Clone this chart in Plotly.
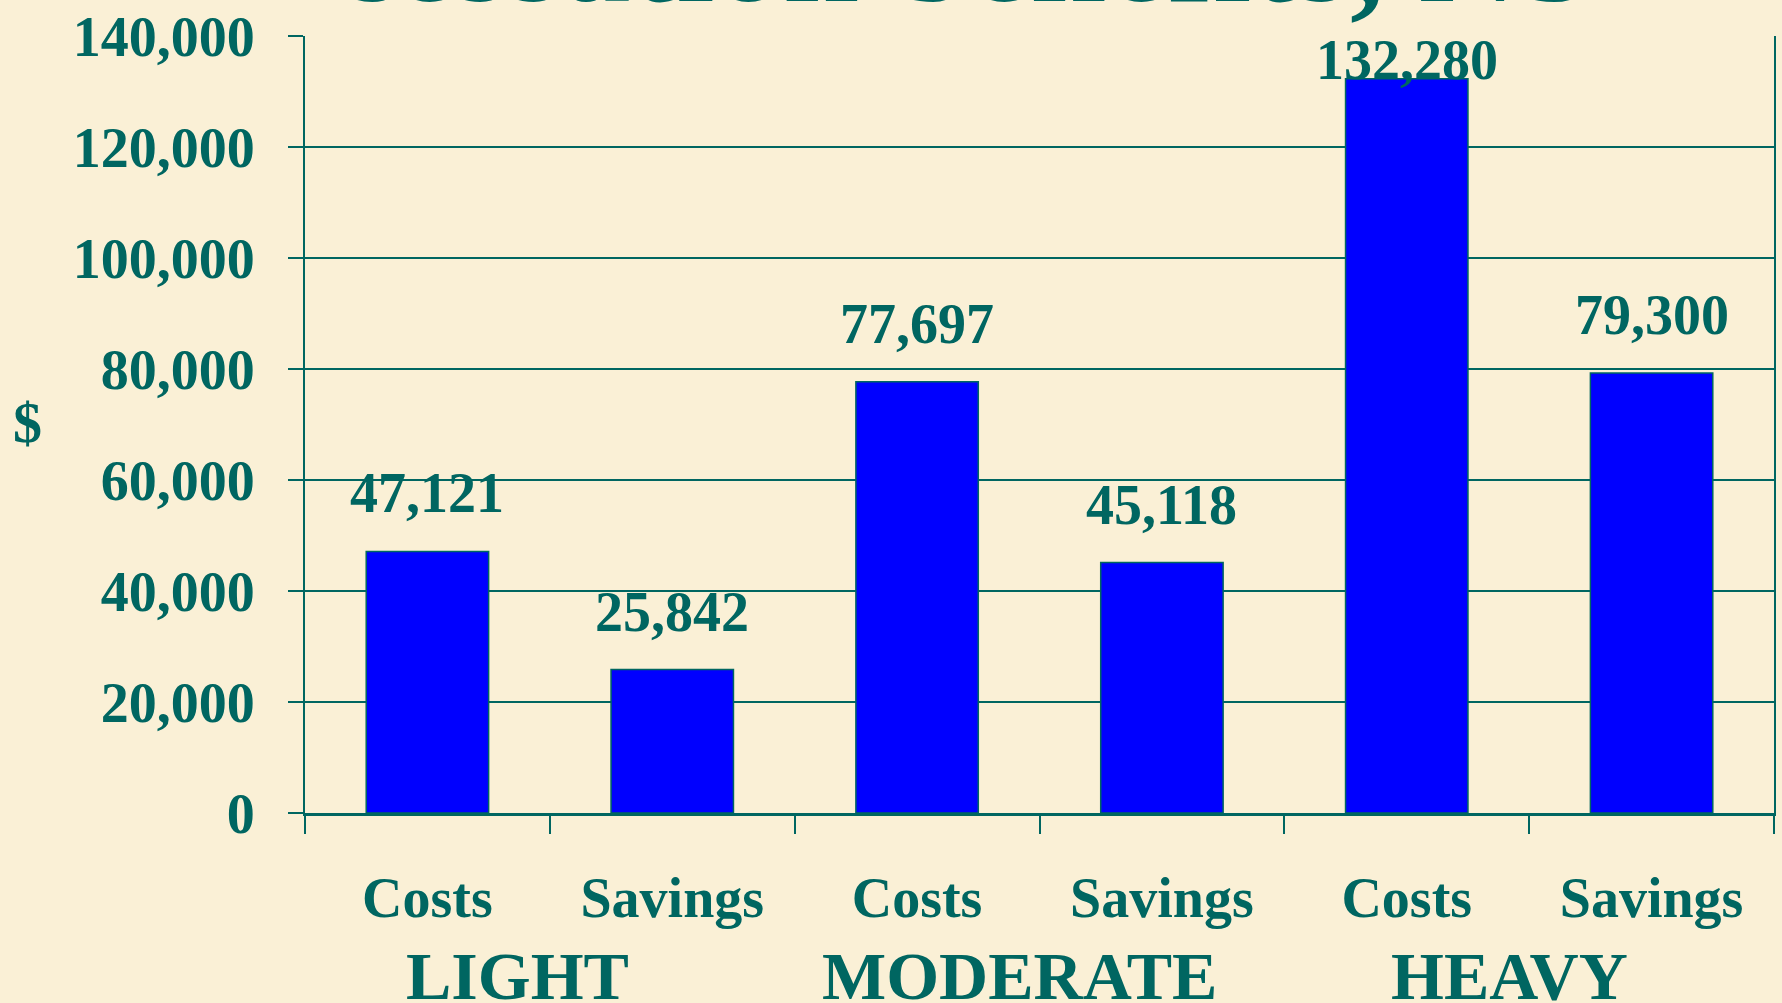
import plotly.graph_objects as go

groups = ["LIGHT", "MODERATE", "HEAVY"]
kinds = ["Costs", "Savings"]
values = [47121, 25842, 77697, 45118, 132280, 79300]
value_labels = ["47,121", "25,842", "77,697", "45,118", "132,280", "79,300"]
y_ticks = [0, 20000, 40000, 60000, 80000, 100000, 120000, 140000]
y_ticktext = ["0", "20,000", "40,000", "60,000", "80,000", "100,000", "120,000", "140,000"]

TEAL = "#006661"
BG = "#FAF0D6"
FONT = "Liberation Serif"

keys = [f"{g} {k}" for g in groups for k in kinds]
tick_text = [k for g in groups for k in kinds]

fig = go.Figure()
fig.add_trace(go.Bar(
    x=keys, y=values, width=0.5,
    marker=dict(color="#0000FF", line=dict(color=TEAL, width=1.5)),
    hoverinfo="skip",
))

YMAX = 140000
for key, v, lab in zip(keys, values, value_labels):
    near_top = v > YMAX * 0.85
    fig.add_annotation(
        x=key, y=v, xref="x", yref="y", text=f"<b>{lab}</b>",
        showarrow=False, yanchor="bottom", yshift=(-14 if near_top else 25),
        font=dict(family=FONT, size=56, color=TEAL),
    )

for i, g in enumerate(groups):
    fig.add_annotation(
        x=2 * i + 0.5, y=0, xref="x", yref="paper", text=f"<b>{g}</b>",
        showarrow=False, yanchor="middle", yshift=-163, xshift=(-32 if i == 0 else -20),
        font=dict(family=FONT, size=68, color=TEAL),
    )

fig.add_annotation(
    x=0, y=0.5, xref="paper", yref="paper", text="<b>$</b>",
    showarrow=False, xanchor="center", yanchor="middle", xshift=-278, yshift=2,
    font=dict(family=FONT, size=58, color=TEAL),
)

fig.add_annotation(
    x=0.5, y=1, xref="paper", yref="paper", text="<b>cessation benefits, NS</b>",
    showarrow=False, xanchor="center", yanchor="bottom", yshift=3, xshift=-76,
    font=dict(family=FONT, size=137, color=TEAL),
)

fig.update_layout(
    width=1782, height=1003,
    margin=dict(l=305, r=6, t=34, b=190),
    paper_bgcolor=BG, plot_bgcolor=BG,
    showlegend=False,
    bargap=0.5,
)
fig.update_xaxes(
    type="category", tickvals=keys, ticktext=[f"<b>{t}</b>" for t in tick_text],
    tickson="boundaries",
    ticks="outside", ticklen=18, tickwidth=2, tickcolor=TEAL,
    showline=True, linecolor=TEAL, linewidth=2.5,
    showgrid=False, ticklabelstandoff=34,
    tickfont=dict(family=FONT, size=56, color=TEAL),
    range=[-0.5, 5.5],
)
fig.update_yaxes(
    range=[0, YMAX], tickvals=y_ticks, ticktext=[f"<b>{t}</b>" for t in y_ticktext],
    ticks="outside", ticklen=15, tickwidth=2, tickcolor=TEAL,
    showline=True, linecolor=TEAL, linewidth=2, mirror=True,
    showgrid=True, gridcolor=TEAL, gridwidth=2, zeroline=False,
    ticklabelstandoff=22,
    tickfont=dict(family=FONT, size=56, color=TEAL),
)

fig.write_html(
    "out.html",
    config={"displayModeBar": False},
    post_script="document.body.style.margin='0';document.body.style.overflow='hidden';",
)
